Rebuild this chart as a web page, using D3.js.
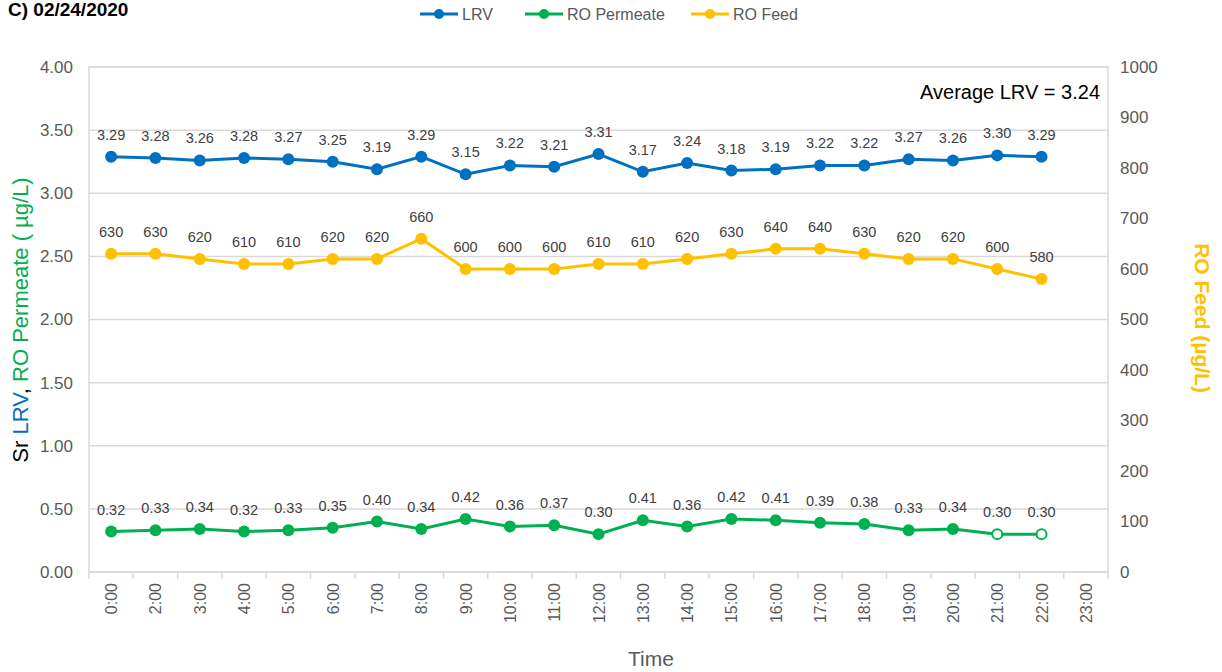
<!DOCTYPE html>
<html>
<head>
<meta charset="utf-8">
<script src="https://cdn.jsdelivr.net/npm/d3@7"></script>
<style>
  body { margin: 0; background: #fff; }
  text { font-family: "Liberation Sans", Arial, sans-serif; }
</style>
</head>
<body>
<script>
// data
var times = ['0:00','2:00','3:00','4:00','5:00','6:00','7:00','8:00','9:00','10:00','11:00',
             '12:00','13:00','14:00','15:00','16:00','17:00','18:00','19:00','20:00','21:00','22:00','23:00'];
var lrv = [3.29,3.28,3.26,3.28,3.27,3.25,3.19,3.29,3.15,3.22,3.21,3.31,3.17,3.24,3.18,3.19,3.22,3.22,3.27,3.26,3.30,3.29];
var permeate = [0.32,0.33,0.34,0.32,0.33,0.35,0.40,0.34,0.42,0.36,0.37,0.30,0.41,0.36,0.42,0.41,0.39,0.38,0.33,0.34,0.30,0.30];
var permeateOpen = [20, 21]; // hollow markers
var feed = [630,630,620,610,610,620,620,660,600,600,600,610,610,620,630,640,640,630,620,620,600,580];
var leftTicks = [0,0.5,1,1.5,2,2.5,3,3.5,4];
var rightTicks = [0,100,200,300,400,500,600,700,800,900,1000];

var width = 1222, height = 672,
    blue = '#0070C0', green = '#00B050', orange = '#FFC000', grey = '#595959';

var svg = d3.select('body').append('svg')
    .attr('width', width)
    .attr('height', height);

var x = d3.scaleBand().domain(times).range([89, 1108]),
    y = d3.scaleLinear().domain([0, 4]).range([572, 67]),
    y2 = d3.scaleLinear().domain([0, 1000]).range([572, 67]);

// grid
svg.append('g').selectAll('line').data(leftTicks).enter().append('line')
    .attr('x1', 89).attr('x2', 1108)
    .attr('y1', function (d) { return y(d); })
    .attr('y2', function (d) { return y(d); })
    .attr('stroke', '#d9d9d9').attr('stroke-width', 1.5);
svg.append('rect').attr('x', 89).attr('y', 67).attr('width', 1019).attr('height', 505)
    .attr('fill', 'none').attr('stroke', '#d9d9d9').attr('stroke-width', 1.5);

// left axis
var la = svg.append('g').attr('transform', 'translate(89,0)')
    .call(d3.axisLeft(y).tickValues(leftTicks).tickFormat(d3.format('.2f')).tickSize(0).tickPadding(16));
la.select('.domain').remove();
la.selectAll('text').attr('fill', grey).style('font-size', '17px');

// right axis
var ra = svg.append('g').attr('transform', 'translate(1108,0)')
    .call(d3.axisRight(y2).tickValues(rightTicks).tickFormat(d3.format('d')).tickSize(0).tickPadding(12));
ra.select('.domain').remove();
ra.selectAll('text').attr('fill', grey).style('font-size', '17px');

// bottom axis with ticks on category boundaries
svg.append('g').selectAll('line').data(d3.range(times.length + 1)).enter().append('line')
    .attr('x1', function (i) { return 89 + i * x.step(); })
    .attr('x2', function (i) { return 89 + i * x.step(); })
    .attr('y1', 572).attr('y2', 579)
    .attr('stroke', '#d9d9d9').attr('stroke-width', 1.5);
svg.append('g').selectAll('text').data(times).enter().append('text')
    .attr('transform', function (d) {
        return 'translate(' + (x(d) + x.bandwidth() / 2 + 6) + ',583) rotate(-90)';
    })
    .attr('text-anchor', 'end')
    .attr('fill', grey).style('font-size', '16px')
    .text(function (d) { return d; });

function cx(i) { return x(times[i]) + x.bandwidth() / 2; }

function drawSeries(vals, scale, color, fmt, hollow) {
    var line = d3.line()
        .x(function (d, i) { return cx(i); })
        .y(function (d) { return scale(d); });
    svg.append('path').datum(vals)
        .attr('d', line).attr('fill', 'none')
        .attr('stroke', color).attr('stroke-width', 3);
    svg.append('g').selectAll('circle').data(vals).enter().append('circle')
        .attr('cx', function (d, i) { return cx(i); })
        .attr('cy', function (d) { return scale(d); })
        .attr('r', function (d, i) { return hollow.indexOf(i) >= 0 ? 5 : 6; })
        .attr('fill', function (d, i) { return hollow.indexOf(i) >= 0 ? '#fff' : color; })
        .attr('stroke', color).attr('stroke-width', function (d, i) { return hollow.indexOf(i) >= 0 ? 2 : 0; });
    svg.append('g').selectAll('text').data(vals).enter().append('text')
        .attr('x', function (d, i) { return cx(i); })
        .attr('y', function (d) { return scale(d) - 17; })
        .attr('text-anchor', 'middle')
        .attr('fill', '#404040').style('font-size', '14.5px')
        .text(fmt);
}

drawSeries(feed, y2, orange, d3.format('d'), []);
drawSeries(lrv, y, blue, d3.format('.2f'), []);
drawSeries(permeate, y, green, d3.format('.2f'), permeateOpen);

// average annotation
svg.append('text').attr('x', 1100).attr('y', 99).attr('text-anchor', 'end')
    .style('font-size', '20px').attr('fill', '#000').text('Average LRV = 3.24');

// title
svg.append('text').attr('x', 8).attr('y', 16)
    .style('font-size', '19px').style('font-weight', 'bold').text('C) 02/24/2020');

// legend
var legend = [
    { name: 'LRV', color: blue, x: 420 },
    { name: 'RO Permeate', color: green, x: 525 },
    { name: 'RO Feed', color: orange, x: 691 }
];
var lg = svg.append('g').selectAll('g').data(legend).enter().append('g')
    .attr('transform', function (d) { return 'translate(' + d.x + ',14)'; });
lg.append('line').attr('x1', 0).attr('x2', 38).attr('stroke', function (d) { return d.color; }).attr('stroke-width', 3);
lg.append('circle').attr('cx', 19).attr('r', 5).attr('fill', function (d) { return d.color; });
lg.append('text').attr('x', 42).attr('dy', '0.35em').attr('fill', grey)
    .style('font-size', '16px').text(function (d) { return d.name; });

// left axis title
var lt = svg.append('text').attr('transform', 'translate(28,320) rotate(-90)')
    .attr('text-anchor', 'middle').style('font-size', '22px');
lt.append('tspan').attr('fill', '#000').text('Sr ');
lt.append('tspan').attr('fill', blue).text('LRV');
lt.append('tspan').attr('fill', '#000').text(', ');
lt.append('tspan').attr('fill', green).text('RO Permeate ( µg/L)');

// right axis title
svg.append('text').attr('transform', 'translate(1195,318) rotate(90)')
    .attr('text-anchor', 'middle').attr('fill', orange)
    .style('font-size', '21px').style('font-weight', 'bold').text('RO Feed (µg/L)');

// x title
svg.append('text').attr('x', 651).attr('y', 666).attr('text-anchor', 'middle')
    .attr('fill', grey).style('font-size', '21px').text('Time');
</script>
</body>
</html>
